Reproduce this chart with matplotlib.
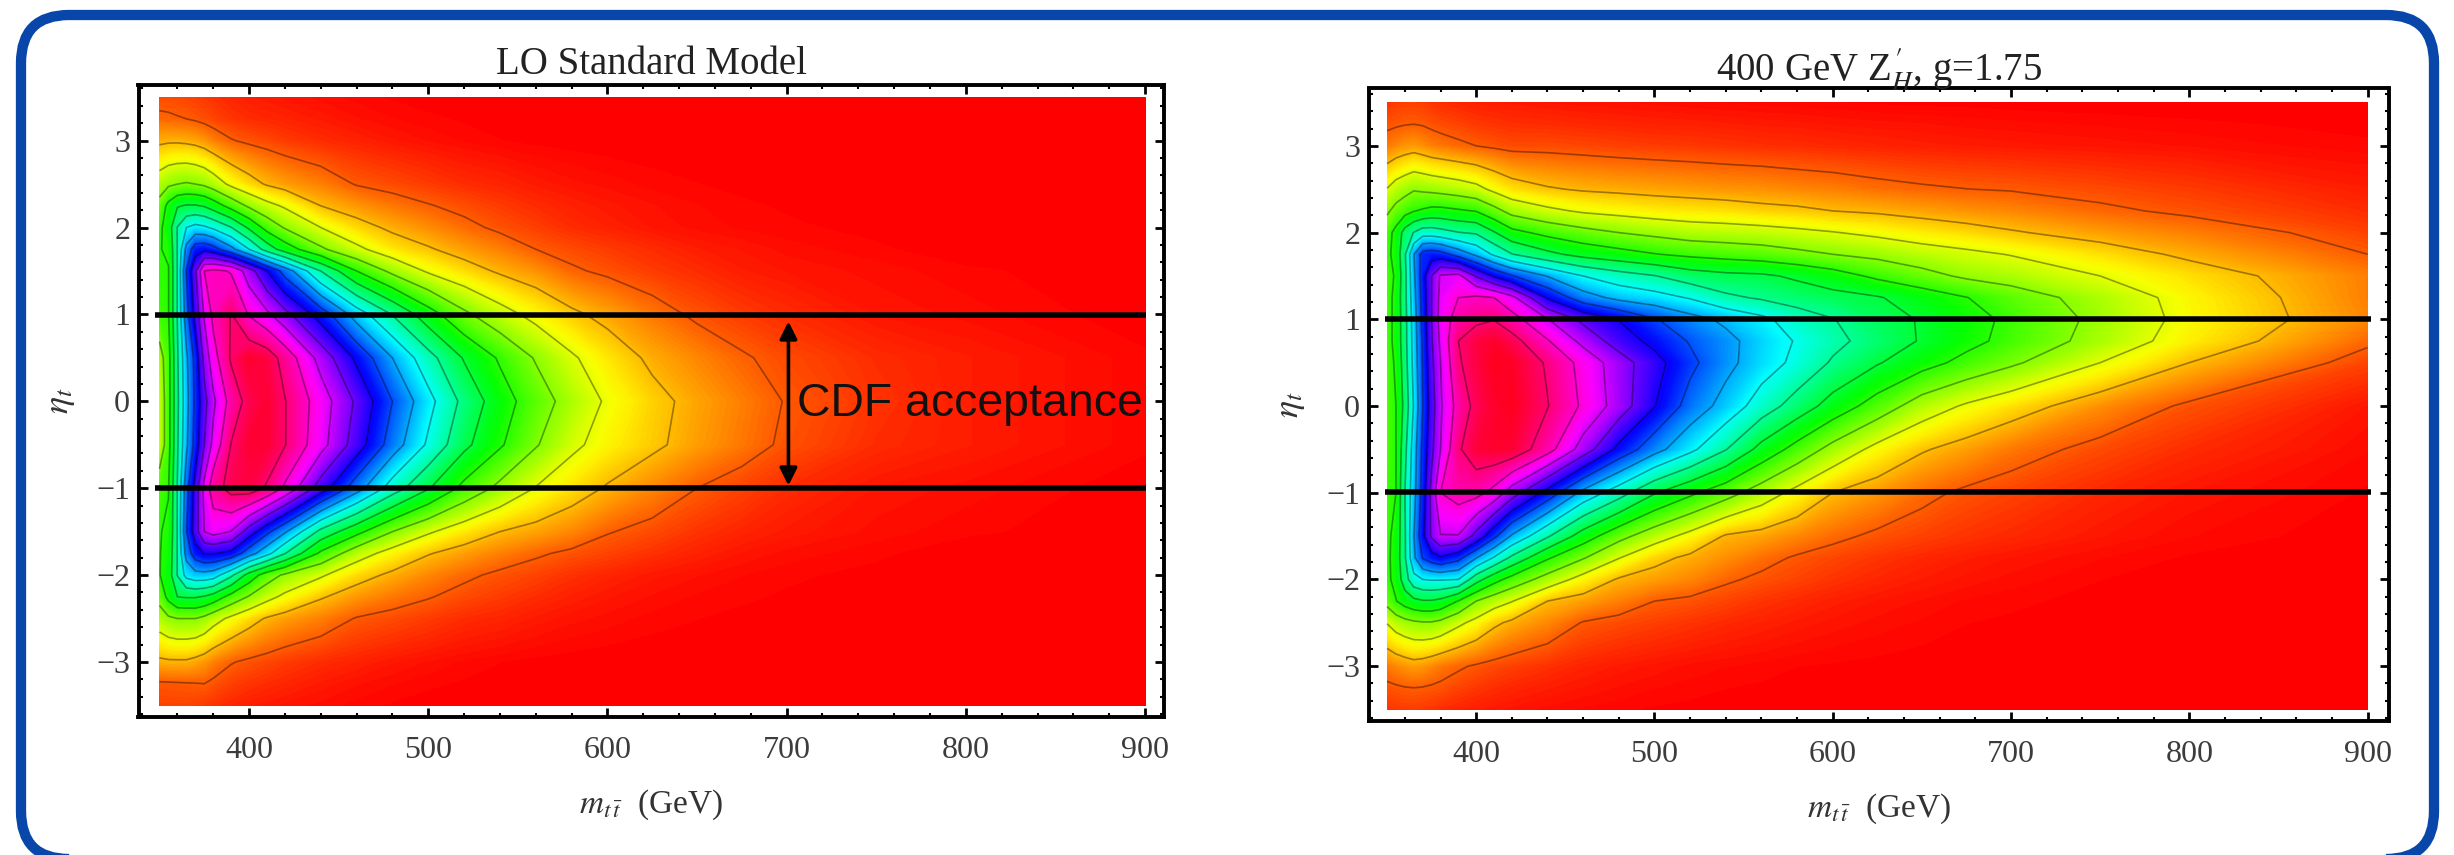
import numpy as np
import matplotlib
matplotlib.use('Agg')
import matplotlib.pyplot as plt
from matplotlib.patches import FancyBboxPatch
from matplotlib.ticker import MultipleLocator
from matplotlib.transforms import IdentityTransform

# hue values (0 = red, 1/6 yellow, 1/3 green, 2/3 blue, 1 = red again)
mass = [350, 355, 360, 365, 370, 375, 380, 390, 400, 410, 420, 440, 460, 480,
        500, 520, 540, 560, 580, 600, 625, 650, 675, 700, 750, 800, 900]
sm_eta = [3.5, 3.25, 3, 2.5, 2.25, 2, 1.75, 1.5, 1, 0.5, 0, -0.5, -1, -1.5, -1.75,
          -2, -2.25, -2.5, -3, -3.25, -3.5]
zh_eta = [3.5, 3.25, 3, 2.5, 2.25, 2, 1.75, 1.5, 1.25, 1, 0.75, 0.5, 0, -0.5, -1, -1.5, -1.75,
          -2, -2.25, -2.5, -3, -3.25, -3.5]

sm_hue = [
    [.05, .05, .048, .045, .042, .038, .033, .026, .02, .017, .014, .01, .006, .003, .001, 0, 0, 0, 0, 0, 0, 0, 0, 0, 0, 0, 0],
    [.07, .068, .065, .0625, .058, .052, .046, .036, .03, .027, .024, .018, .012, .008, .005, .003, .002, .001, 0, 0, 0, 0, 0, 0, 0, 0, 0],
    [.115, .118, .118, .115, .11, .1, .085, .065, .055, .048, .04, .03, .023, .016, .011, .007, .004, .002, .001, 0, 0, 0, 0, 0, 0, 0, 0],
    [.22, .24, .25, .255, .25, .24, .22, .175, .145, .12, .105, .085, .06, .05, .04, .03, .025, .018, .013, .01, .006, .004, .002, 0, 0, 0, 0],
    [.27, .33, .37, .38, .38, .37, .345, .29, .24, .205, .18, .125, .1, .08, .065, .052, .04, .03, .023, .017, .012, .008, .005, .003, 0, 0, 0],
    [.3, .34, .44, .5, .52, .51, .49, .44, .365, .29, .245, .1875, .145, .115, .094, .073, .055, .042, .03, .023, .015, .01, .007, .005, .002, 0, 0],
    [.31, .32, .44, .58, .66, .67, .65, .58, .5, .41, .345, .26, .2, .155, .13, .105, .085, .0625, .05, .04, .03, .02, .015, .01, .005, 0, 0],
    [.31, .31, .44, .625, .74, .875, .89, .87, .78, .6875, .6, .4375, .3125, .235, .18, .147, .118, .097, .068, .055, .04, .03, .02, .015, .01, .005, 0],
    [.3, .31, .44, .6, .71, .82, .89, .94, .87, .825, .77, .66, .535, .435, .34, .262, .21, .17, .135, .11, .08, .055, .04, .03, .015, .01, 0],
    [.22, .29, .43, .55, .645, .77, .85, .945, .985, .97, .915, .79, .675, .5625, .46, .37, .305, .245, .195, .155, .115, .09, .067, .05, .03, .02, .005],
    [.2, .29, .425, .54, .64, .73, .8, .9, .96, .98, .94, .845, .74, .625, .52, .42, .34, .28, .225, .18, .14, .11, .085, .06, .035, .02, .005],
    [.2, .29, .43, .55, .65, .75, .83, .94, .98, .98, .94, .835, .72, .595, .49, .39, .32, .255, .2, .165, .135, .105, .08, .055, .03, .02, .005],
    [.29, .31, .44, .6, .71, .83, .91, .96, .97, .93, .865, .72, .59, .47, .38, .295, .235, .185, .15, .12, .09, .0625, .045, .03, .015, .01, 0],
    [.31, .32, .44, .62, .72, .8125, .835, .81, .72, .64, .57, .42, .33, .25, .195, .155, .125, .108, .09, .065, .05, .035, .025, .018, .01, .005, 0],
    [.31, .33, .44, .585, .66, .69, .69, .67, .59, .52, .44, .3, .215, .165, .128, .105, .085, .068, .055, .045, .033, .023, .015, .01, .005, 0, 0],
    [.31, .34, .44, .52, .54, .54, .53, .45, .35, .28, .24, .195, .145, .115, .09, .07, .055, .045, .033, .025, .017, .012, .008, .005, .002, 0, 0],
    [.27, .33, .375, .38, .38, .37, .35, .29, .245, .205, .175, .13, .1, .08, .065, .05, .04, .03, .022, .016, .011, .007, .005, .003, 0, 0, 0],
    [.22, .24, .25, .25, .25, .235, .21, .175, .145, .12, .105, .085, .06, .05, .04, .03, .025, .018, .013, .01, .006, .004, .002, 0, 0, 0, 0],
    [.115, .118, .118, .118, .11, .1, .085, .065, .055, .048, .04, .03, .023, .016, .011, .007, .004, .002, .001, 0, 0, 0, 0, 0, 0, 0, 0],
    [.057, .058, .059, .06, .061, .0625, .055, .043, .035, .03, .026, .018, .012, .008, .005, .003, .002, .001, 0, 0, 0, 0, 0, 0, 0, 0, 0],
    [.045, .045, .045, .045, .042, .038, .033, .026, .02, .017, .014, .01, .006, .003, .001, 0, 0, 0, 0, 0, 0, 0, 0, 0, 0, 0, 0],
]

zh_hue = [
    [.035, .04, .043, .043, .04, .035, .03, .025, .022, .02, .018, .015, .013, .012, .01, .008, .007, .006, .005, .004, .003, .002, .002, .001, 0, 0, 0],
    [.055, .058, .061, .0625, .06, .055, .05, .045, .038, .035, .032, .03, .027, .025, .023, .022, .02, .018, .017, .015, .013, .012, .01, .009, .007, .005, .002],
    [.08, .09, .098, .103, .095, .085, .08, .07, .0625, .056, .05, .05, .047, .043, .04, .038, .035, .032, .03, .027, .024, .021, .019, .017, .014, .011, .005],
    [.19, .215, .23, .245, .24, .235, .23, .22, .205, .175, .15, .13, .12, .115, .11, .105, .1, .097, .09, .085, .075, .068, .063, .06, .05, .04, .02],
    [.24, .27, .29, .31, .32, .33, .33, .32, .31, .27, .23, .2, .18, .17, .16, .155, .15, .14, .135, .125, .118, .108, .098, .09, .07, .055, .03],
    [.29, .33, .4, .44, .47, .47, .46, .44, .43, .38, .33, .295, .27, .25, .235, .22, .215, .21, .2, .19, .175, .158, .145, .13, .105, .085, .045],
    [.3, .33, .43, .56, .65, .66, .65, .6, .55, .49, .44, .39, .355, .335, .315, .3, .29, .28, .265, .25, .235, .215, .2, .185, .15, .115, .0625],
    [.29, .32, .42, .55, .66, .75, .82, .83, .745, .68, .63, .56, .5, .465, .44, .405, .39, .385, .365, .34, .3, .27, .24, .225, .1875, .15, .085],
    [.29, .33, .42, .54, .65, .75, .83, .875, .885, .875, .83, .68, .59, .546, .525, .495, .45, .43, .41, .395, .38, .346, .314, .28, .225, .167, .085],
    [.29, .33, .415, .53, .645, .75, .835, .905, .925, .935, .9, .815, .735, .685, .63, .585, .55, .515, .47, .44, .4, .37, .335, .3, .235, .17, .09],
    [.29, .33, .415, .525, .635, .745, .825, .9375, .97, .985, .96, .88, .795, .72, .67, .62, .58, .535, .495, .455, .41, .37, .33, .295, .227, .16, .07],
    [.29, .32, .41, .52, .63, .735, .8125, .93, .97, .995, .99, .93, .855, .78, .71, .64, .58, .53, .485, .43, .38, .335, .295, .26, .1875, .125, .045],
    [.29, .3125, .395, .505, .625, .72, .805, .9, .955, .985, .995, .94, .865, .785, .69, .6, .54, .47, .41, .35, .285, .22, .18, .15, .095, .055, .015],
    [.29, .3125, .42, .53, .64, .735, .8125, .93, .975, .985, .98, .9, .785, .67, .585, .515, .44, .355, .29, .23, .17, .13, .105, .08, .05, .03, .008],
    [.3, .3125, .4375, .54, .65, .77, .875, .9, .895, .855, .78, .665, .545, .465, .38, .325, .275, .22, .17, .125, .1, .073, .055, .045, .027, .015, .003],
    [.3, .33, .43, .56, .67, .76, .81, .81, .73, .64, .555, .445, .345, .27, .215, .17, .12, .108, .09, .072, .055, .044, .035, .028, .016, .008, 0],
    [.3, .335, .43, .55, .63, .66, .68, .645, .565, .495, .425, .32, .255, .19, .14, .115, .095, .075, .058, .047, .036, .027, .02, .015, .008, .003, 0],
    [.3, .33, .41, .48, .5, .505, .505, .5, .4, .335, .29, .225, .165, .12, .105, .09, .068, .055, .045, .035, .026, .019, .014, .01, .004, .001, 0],
    [.27, .31, .34, .36, .37, .37, .36, .31, .25, .215, .19, .125, .105, .085, .0625, .055, .045, .035, .028, .021, .015, .011, .007, .005, .002, 0, 0],
    [.19, .215, .23, .24, .245, .245, .235, .2, .17, .135, .115, .09, .06, .05, .042, .035, .028, .023, .018, .014, .01, .007, .004, .003, .001, 0, 0],
    [.08, .09, .098, .105, .1, .09, .08, .068, .058, .05, .043, .033, .024, .018, .014, .01, .008, .006, .004, .003, .002, .001, 0, 0, 0, 0, 0],
    [.055, .058, .061, .0625, .061, .058, .055, .045, .037, .031, .026, .02, .015, .011, .008, .006, .004, .003, .002, .001, .001, 0, 0, 0, 0, 0, 0],
    [.035, .038, .04, .04, .038, .035, .03, .024, .02, .017, .014, .01, .007, .005, .003, .002, .001, 0, 0, 0, 0, 0, 0, 0, 0, 0, 0],
]

x_ticks = [400, 500, 600, 700, 800, 900]
y_ticks = [-3, -2, -1, 0, 1, 2, 3]
contour_levels = [k / 16 for k in range(1, 16)]

W, H = 2454, 855
plt.rcParams['font.family'] = ['Liberation Serif', 'DejaVu Serif']
plt.rcParams['mathtext.fontset'] = 'stix'

fig = plt.figure(figsize=(W / 100, H / 100), dpi=100)

# blue rounded frame, given in pixels
fig.add_artist(FancyBboxPatch((21, -4), 2413, 844,
                              boxstyle='round,pad=0,rounding_size=48',
                              fc='none', ec='#0846a9', lw=7.4, zorder=-1,
                              transform=IdentityTransform()))


def panel(box, xlim, ylim, eta, hue, title, title_y, bar, bar_x):
    left, top, right, bottom = box
    ax = fig.add_axes([left / W, 1 - bottom / H,
                       (right - left) / W, (bottom - top) / H])
    ax.contourf(mass, eta, np.array(hue), levels=np.linspace(0, 1, 257),
                cmap='hsv', vmin=0, vmax=1, extend='both')
    ax.contour(mass, eta, np.array(hue), levels=contour_levels, colors='black',
               linewidths=1.2, alpha=0.38)
    for b in bar:
        ax.plot(bar_x, [b, b], color='black', lw=4, solid_capstyle='butt',
                clip_on=False, zorder=5)
    ax.set_xlim(xlim)
    ax.set_ylim(ylim)
    ax.set_xticks(x_ticks)
    ax.set_yticks(y_ticks)
    ax.xaxis.set_minor_locator(MultipleLocator(20))
    ax.yaxis.set_minor_locator(MultipleLocator(0.2))
    ax.tick_params(which='major', direction='in', top=True, right=True,
                   length=6.5, width=2, labelsize=23, labelcolor='#3c3c3c')
    ax.tick_params(which='minor', direction='in', top=True, right=True,
                   length=3, width=1.5)
    ax.tick_params(axis='x', which='major', pad=14)
    ax.tick_params(axis='y', which='major', pad=6)
    for s in ax.spines.values():
        s.set_linewidth(2.8)
    ax.text(0.5, title_y, title, transform=ax.transAxes, ha='center',
            va='center', fontsize=28, color='#222222')
    ax.set_xlabel(r'$m_{t\,\bar{t}}$  (GeV)', fontsize=24, color='#333333',
                  labelpad=16)
    ax.set_ylabel(r'$\eta_t$', fontsize=26, color='#333333', labelpad=14)
    return ax


ax1 = panel((138.5, 85, 1163.5, 716.5), (338.3, 910.3), (-3.627, 3.64), sm_eta, sm_hue,
            'LO Standard Model', 1.032, [0.998, -0.992], [347.5, 900.5])
ax2 = panel((1368.5, 88.5, 2389, 721), (339.6, 912), (-3.633, 3.662), zh_eta, zh_hue,
            r"400 GeV Z$_{H}^{\,\prime}$, g=1.75", 1.03, [0.998, -0.996], [349, 902])

ax1.annotate('', xy=(701, 0.92), xytext=(701, -0.97), zorder=6,
             arrowprops=dict(arrowstyle='<|-|>', color='black', lw=2.6,
                             mutation_scale=26, shrinkA=0, shrinkB=0))
ax1.text(705.5, -0.03, 'CDF acceptance', family='Liberation Sans', fontsize=33.4,
         ha='left', va='center', color='#111111', zorder=6)

fig.savefig('out.png', dpi=100)
